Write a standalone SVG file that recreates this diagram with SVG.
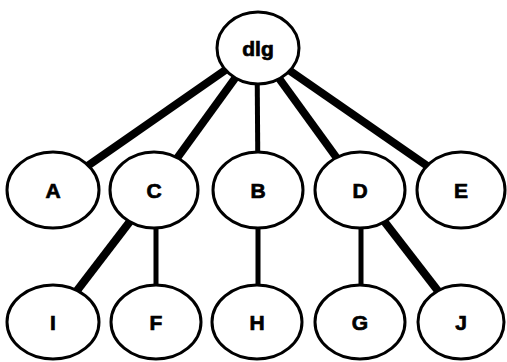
<svg xmlns="http://www.w3.org/2000/svg" width="507" height="362" viewBox="0 0 507 362">
<style>
.n ellipse{fill:#fff;stroke:#000;stroke-width:3}
.n text{font-family:"Liberation Sans",Arial,sans-serif;font-weight:bold;font-size:21px;text-anchor:middle;fill:#000;stroke:#000;stroke-width:0.7}
.e line{stroke:#000;stroke-linecap:butt}
.t{stroke-width:8}
.s{stroke-width:5}
</style>
<rect width="507" height="362" fill="#fff"/>
<g id="connectors" class="e">
<line class="t" x1="257" y1="48" x2="53" y2="190"/>
<line class="t" x1="257" y1="48" x2="154" y2="190"/>
<line class="s" x1="257" y1="48" x2="258" y2="190"/>
<line class="t" x1="257" y1="48" x2="360" y2="190"/>
<line class="t" x1="257" y1="48" x2="462" y2="190"/>
<line class="t" x1="154" y1="190" x2="53" y2="322"/>
<line class="s" x1="156" y1="190" x2="156" y2="322"/>
<line class="s" x1="258" y1="190" x2="258" y2="322"/>
<line class="s" x1="361" y1="190" x2="361" y2="322"/>
<line class="t" x1="360" y1="190" x2="462" y2="322"/>
</g>
<g id="dlg" class="n"><ellipse cx="258" cy="48" rx="41" ry="36"/><text x="258" y="56">dlg</text></g>
<g id="A" class="n"><ellipse cx="53" cy="190" rx="46" ry="38"/><text x="53" y="198">A</text></g>
<g id="C" class="n"><ellipse cx="154" cy="190" rx="44" ry="38"/><text x="154" y="198">C</text></g>
<g id="B" class="n"><ellipse cx="258" cy="190" rx="45" ry="38"/><text x="258" y="198">B</text></g>
<g id="D" class="n"><ellipse cx="360" cy="190" rx="45" ry="38"/><text x="360" y="198">D</text></g>
<g id="E" class="n"><ellipse cx="461" cy="190" rx="44" ry="38"/><text x="461" y="198">E</text></g>
<g id="I" class="n"><ellipse cx="53" cy="322" rx="46" ry="37"/><text x="53" y="330">I</text></g>
<g id="F" class="n"><ellipse cx="156" cy="322" rx="45" ry="37"/><text x="156" y="330">F</text></g>
<g id="H" class="n"><ellipse cx="257" cy="322" rx="45" ry="37"/><text x="257" y="330">H</text></g>
<g id="G" class="n"><ellipse cx="360" cy="322" rx="45" ry="37"/><text x="360" y="330">G</text></g>
<g id="J" class="n"><ellipse cx="461" cy="322" rx="43" ry="37"/><text x="461" y="330">J</text></g>
</svg>
